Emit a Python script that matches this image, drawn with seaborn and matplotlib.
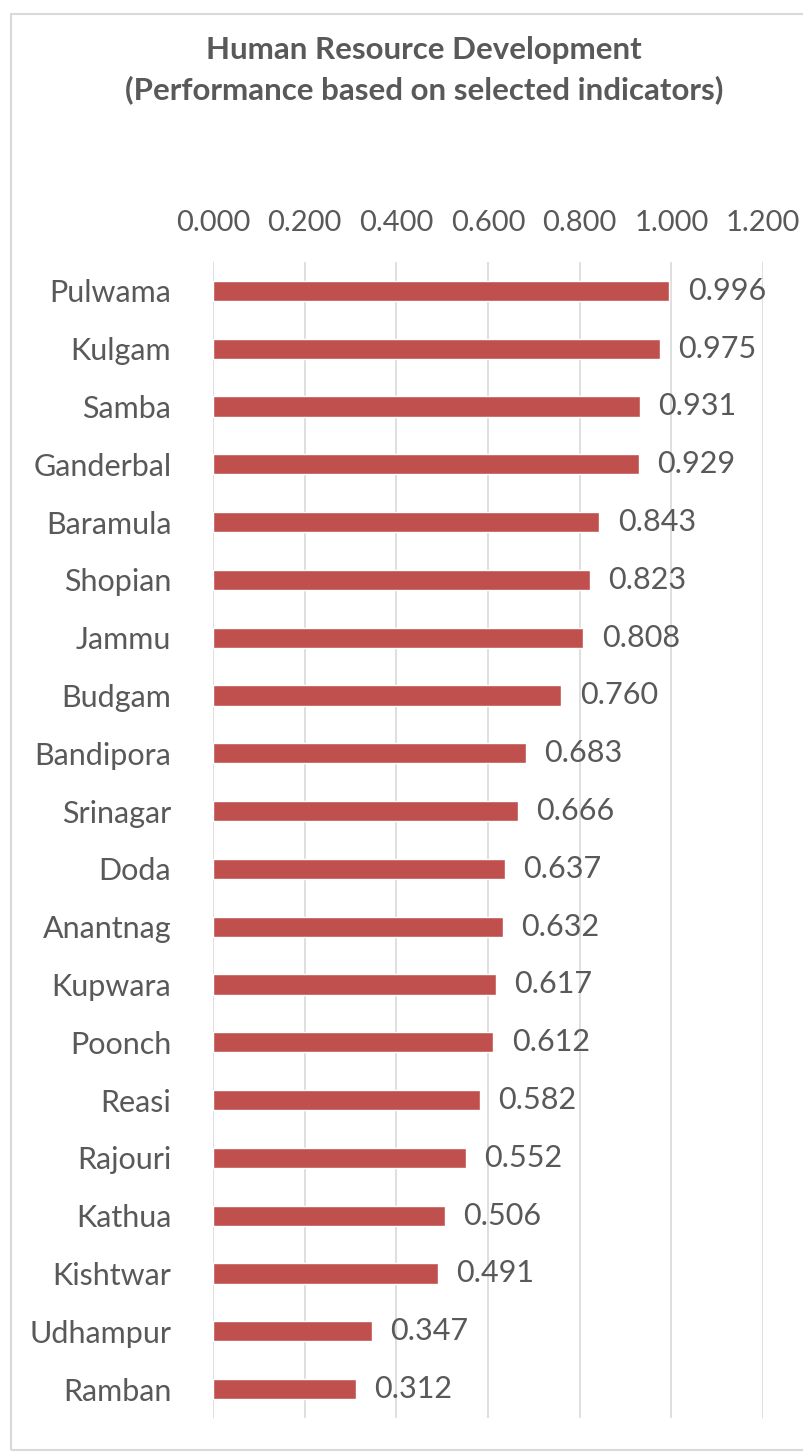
import matplotlib
matplotlib.use("Agg")
import matplotlib.pyplot as plt
import seaborn as sns
import pandas as pd
from matplotlib.patches import Rectangle

districts = ["Pulwama", "Kulgam", "Samba", "Ganderbal", "Baramula", "Shopian", "Jammu",
             "Budgam", "Bandipora", "Srinagar", "Doda", "Anantnag", "Kupwara", "Poonch",
             "Reasi", "Rajouri", "Kathua", "Kishtwar", "Udhampur", "Ramban"]
scores = [0.996, 0.975, 0.931, 0.929, 0.843, 0.823, 0.808, 0.760, 0.683, 0.666,
          0.637, 0.632, 0.617, 0.612, 0.582, 0.552, 0.506, 0.491, 0.347, 0.312]
xticks = [0.0, 0.2, 0.4, 0.6, 0.8, 1.0, 1.2]
title = "Human Resource Development\n(Performance based on selected indicators)"

sns.set_theme(style="white")
plt.rcParams['font.family'] = ['Lato', 'DejaVu Sans']

df = pd.DataFrame({"District": districts, "Score": scores})

fig = plt.figure(figsize=(8.04, 14.54), dpi=100)
ax = fig.add_axes([213/804, 1 - 1418/1454, 550/804, 1156/1454])

sns.barplot(data=df, x="Score", y="District", orient="h", color="#C0504D",
            saturation=1, width=0.35, ax=ax, order=districts)

ax.set_xlim(0, 1.2)
ax.set_xticks(xticks)
ax.set_xticklabels([f"{t:.3f}" for t in xticks])
ax.xaxis.tick_top()
ax.tick_params(axis="x", length=0, pad=19, labelsize=21, labelcolor="#595959")
ax.tick_params(axis="y", length=0, pad=30, labelsize=22, labelcolor="#595959")
ax.set_xlabel("")
ax.set_ylabel("")
ax.grid(axis="x", color="#D9D9D9", linewidth=1.2)
ax.set_axisbelow(True)
for s in ax.spines.values():
    s.set_visible(False)

for i, v in enumerate(scores):
    ax.text(v + 0.04, i, f"{v:.3f}", va="center", ha="left", fontsize=22, color="#595959")

fig.text(424/804, 1 - 70/1454, title, ha="center", va="center",
         fontsize=22.5, fontweight="bold", color="#595959", linespacing=1.5)

fig.patches.append(Rectangle((11/804, 1 - 1450/1454), 800/804, 1436/1454,
                             transform=fig.transFigure, fill=False,
                             edgecolor="#D9D9D9", linewidth=1.5))

fig.savefig("out.png", dpi=100, facecolor="white")
